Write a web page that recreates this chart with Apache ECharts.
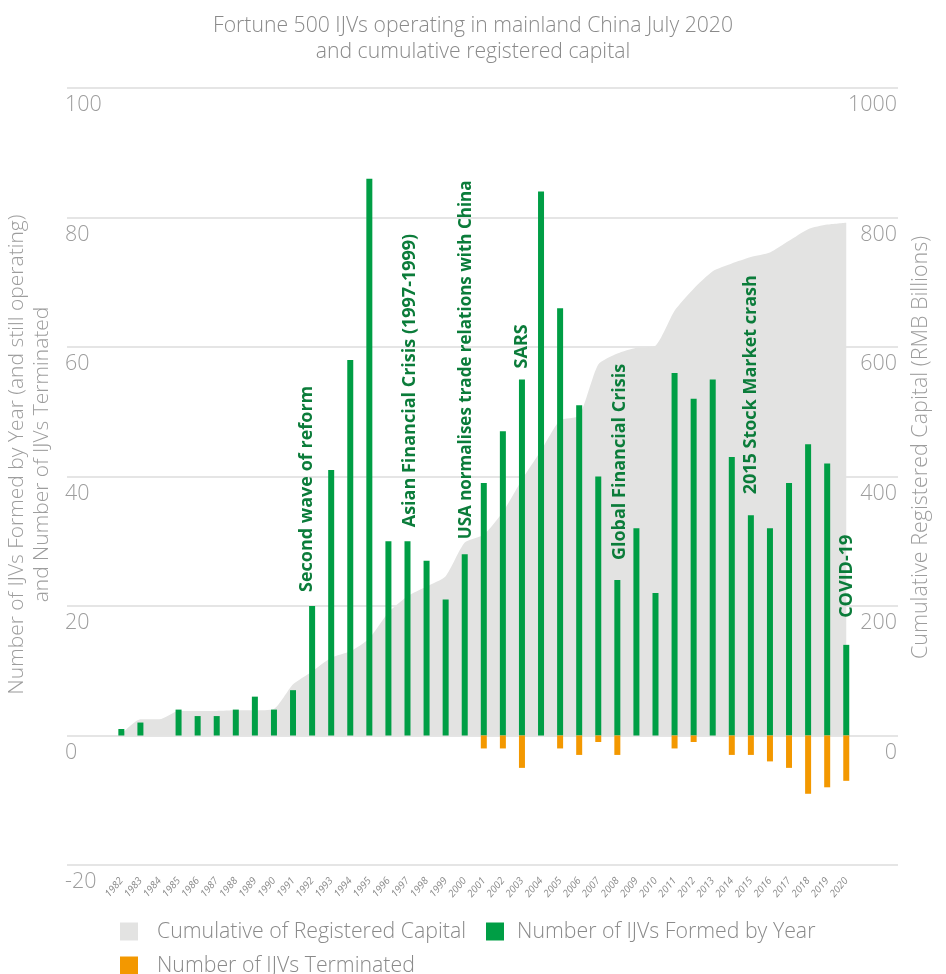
<!DOCTYPE html>
<html><head><meta charset="utf-8">
<script src="https://cdn.jsdelivr.net/npm/echarts@6/dist/echarts.min.js"></script>
<style>html,body{margin:0;padding:0;background:#fff}#c{width:946px;height:974px}</style>
</head><body><div id="c"></div>
<script>
// ---- data ----
const years = ['1982','1983','1984','1985','1986','1987','1988','1989','1990','1991',
  '1992','1993','1994','1995','1996','1997','1998','1999','2000','2001',
  '2002','2003','2004','2005','2006','2007','2008','2009','2010','2011',
  '2012','2013','2014','2015','2016','2017','2018','2019','2020'];
const formed = [1,2,0,4,3,3,4,6,4,7,
  20,41,58,86,30,30,27,21,28,39,
  47,55,84,66,51,40,24,32,22,56,
  52,55,43,34,32,39,45,42,14];
const terminated = [0,0,0,0,0,0,0,0,0,0,
  0,0,0,0,0,0,0,0,0,-2,
  -2,-5,0,-2,-3,-1,-3,0,0,-2,
  -1,0,-3,-3,-4,-5,-9,-8,-7];
const capital = [2,25,25,38,38,38,39,39,41,79,
  99,120,130,150,190,215,230,246,298,310,
  345,395,440,487,494,573,590,599,602,656,
  690,717,729,739,746,764,782,789,792];
const leftTicks = {min:-20, max:100, interval:20};
const rightTicks = {min:-200, max:1000, interval:200};
const annotationYears = ['1992','1997','2000','2003','2008','2015','2020'];
const annotationTexts = ['Second wave of reform','Asian Financial Crisis (1997-1999)',
  'USA normalises trade relations with China','SARS','Global Financial Crisis',
  '2015 Stock Market crash','COVID-19'];
const seriesNames = ['Cumulative of Registered Capital','Number of IJVs Formed by Year','Number of IJVs Terminated'];
const titleText = 'Fortune 500 IJVs operating in mainland China July 2020\nand cumulative registered capital';
const leftAxisName = 'Number of IJVs Formed by Year (and still operating)\nand Number of IJVs Terminated';
const rightAxisName = 'Cumulative Registered Capital (RMB Billions)';

// ---- styles ----
const FONT = "'Open Sans', sans-serif";
const GRAY = '#8a8a8a';
const LGRAY = '#9d9d9d';
const annotationGaps = [14,14,15,11,20,21,27];
const annotationShift = [-5,2,1,0,3,0,1];
const annotationSizes = [18,18,17,18,18,18,18];
const legendTextPadLeft = [14,8,14];

const chart = echarts.init(document.getElementById('c'));
const markData = annotationYears.map((y, i) => {
  const idx = years.indexOf(y);
  return {
    name: annotationTexts[i],
    coord: [y, formed[idx]],
    label: {distance: annotationGaps[i], offset: [0, annotationShift[i]], fontSize: annotationSizes[i]}
  };
});

chart.setOption({
  animation: false,
  textStyle: {fontFamily: FONT},
  title: {
    text: titleText, left: 'center', top: 8,
    textStyle: {fontFamily: FONT, fontSize: 21.2, fontWeight: 300, color: GRAY, lineHeight: 26}
  },
  grid: [
    {left: 111.8, right: 90.2, top: 88, bottom: 109, outerBoundsMode: 'none'},
    {left: 67, right: 48, top: 88, bottom: 109, outerBoundsMode: 'none'}
  ],
  xAxis: [
    {type: 'category', gridIndex: 0, data: years,
      axisLine: {show: false, onZero: false}, axisTick: {show: false},
      axisLabel: {rotate: 50, fontSize: 10, color: GRAY, margin: 14, interval: 0, fontStyle: 'italic', fontFamily: FONT}},
    {type: 'category', gridIndex: 1, data: years, show: false}
  ],
  yAxis: [
    {gridIndex: 0, type: 'value', min: leftTicks.min, max: leftTicks.max, interval: leftTicks.interval, show: false, splitLine: {show: false}},
    {gridIndex: 0, type: 'value', min: rightTicks.min, max: rightTicks.max, interval: rightTicks.interval, show: false, splitLine: {show: false}},
    {gridIndex: 1, type: 'value', position: 'left', min: leftTicks.min, max: leftTicks.max, interval: leftTicks.interval,
      axisLine: {show: false}, axisTick: {show: false},
      splitLine: {show: true, lineStyle: {color: '#dcdcdc', width: 1.5}},
      axisLabel: {inside: true, margin: -2, fontSize: 21.5, color: LGRAY, fontWeight: 300, verticalAlign: 'top', padding: [6,0,0,0], fontFamily: FONT},
      name: leftAxisName, nameLocation: 'middle', nameRotate: 90, nameGap: 5,
      nameTextStyle: {fontSize: 21, color: LGRAY, fontWeight: 300, lineHeight: 25, align: 'center', padding: [0,0,0,44], fontFamily: FONT}},
    {gridIndex: 1, type: 'value', position: 'right', min: rightTicks.min, max: rightTicks.max, interval: rightTicks.interval,
      axisLine: {show: false}, axisTick: {show: false}, splitLine: {show: false},
      axisLabel: {inside: true, margin: 1, fontSize: 21.5, color: LGRAY, fontWeight: 300, verticalAlign: 'top', padding: [6,0,0,0], fontFamily: FONT,
        formatter: v => (v < 0 ? '' : String(v))},
      name: rightAxisName, nameLocation: 'middle', nameRotate: 90, nameGap: 10,
      nameTextStyle: {fontSize: 21.5, color: LGRAY, fontWeight: 300, lineHeight: 26, padding: [0,0,0,58], fontFamily: FONT}}
  ],
  legend: {
    left: 115, top: 916, width: 720, itemWidth: 18, itemHeight: 18, itemGap: 13, icon: 'rect',
    textStyle: {fontSize: 21.3, lineHeight: 21, color: GRAY, fontWeight: 300, padding: [0,7,0,14], fontFamily: FONT},
    data: seriesNames.map((n, i) => ({name: n, textStyle: {padding: [0,7,0,legendTextPadLeft[i]]}}))
  },
  series: [
    {name: seriesNames[0], type: 'line', xAxisIndex: 0, yAxisIndex: 1, data: capital,
      color: '#e3e3e2', symbol: 'none', smooth: 0.2, lineStyle: {width: 0},
      areaStyle: {color: '#e3e3e2', opacity: 1}, z: 1},
    {name: seriesNames[1], type: 'bar', xAxisIndex: 0, yAxisIndex: 0, data: formed,
      color: '#009e45', barWidth: 6, barGap: '-100%', z: 3,
      markPoint: {
        symbol: 'circle', symbolSize: 0, silent: true,
        label: {show: true, formatter: '{b}', position: 'top', rotate: 90, align: 'left', verticalAlign: 'middle',
          fontSize: 18, fontWeight: 'bold', color: '#0b7c3a', fontFamily: FONT},
        data: markData
      }},
    {name: seriesNames[2], type: 'bar', xAxisIndex: 0, yAxisIndex: 0, data: terminated,
      color: '#f39800', barWidth: 6, barGap: '-100%', z: 3}
  ]
});
</script>
</body></html>
